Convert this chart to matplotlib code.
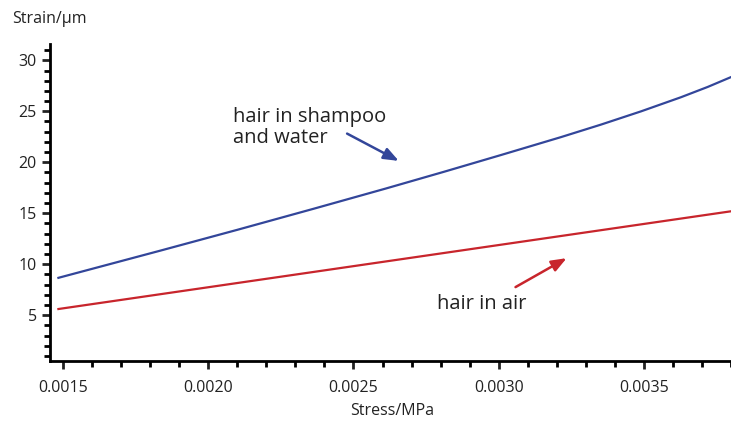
import matplotlib.pyplot as plt
from matplotlib.ticker import MultipleLocator, FormatStrFormatter

plt.rcParams['font.family'] = ['Open Sans', 'DejaVu Sans']

# stress (MPa) and strain (um)
stress_shampoo = [0.001484, 0.001834, 0.002100, 0.002362, 0.002610,
                  0.002810, 0.003007, 0.003214, 0.003352, 0.003490,
                  0.003627, 0.003720, 0.003803]
strain_shampoo = [8.66, 11.32, 13.37, 15.43, 17.41,
                  19.05, 20.70, 22.46, 23.69, 24.99,
                  26.37, 27.39, 28.39]
stress_air = [0.001484, 0.003803]
strain_air = [5.6, 15.2]

blue = "#33469a"
red = "#c8252c"
txt = "#222222"

fig = plt.figure(figsize=(7.31, 4.23), dpi=100)
ax = fig.add_axes([50 / 731, 62 / 423, 681 / 731, 317 / 423])

ax.plot(stress_shampoo, strain_shampoo, color=blue, lw=1.6)
ax.plot(stress_air, strain_air, color=red, lw=1.6)

ax.set_xlim(0.001455, 0.0038)
ax.set_ylim(0.5, 31.6)

ax.xaxis.set_major_locator(MultipleLocator(0.0005))
ax.xaxis.set_minor_locator(MultipleLocator(0.0001))
ax.xaxis.set_major_formatter(FormatStrFormatter('%.4f'))
ax.yaxis.set_major_locator(MultipleLocator(5))
ax.yaxis.set_minor_locator(MultipleLocator(1))
ax.set_yticks([5, 10, 15, 20, 25, 30])

for s in ['top', 'right']:
    ax.spines[s].set_visible(False)
for s in ['left', 'bottom']:
    ax.spines[s].set_linewidth(2)
ax.tick_params(which='major', length=6, width=2, labelsize=11.5, colors=txt)
ax.tick_params(which='minor', length=4, width=2)
ax.tick_params(axis='x', pad=8)

fig.text(12 / 731, 1 - 19 / 423, "Strain/\u03bcm", fontsize=11.5, va='center', color=txt)
fig.text(392 / 731, 1 - 411 / 423, "Stress/MPa", fontsize=11.5, ha='center', va='center', color=txt)

ax.annotate("", xy=(0.002656, 20.13), xytext=(0.002478, 22.81),
            arrowprops=dict(arrowstyle='-|>,head_length=0.9,head_width=0.35',
                            color=blue, lw=1.8, shrinkA=0, shrinkB=0))
ax.text(0.002086, 23.4, "hair in shampoo\nand water", fontsize=14.5, va='center',
        linespacing=1.05, color=txt)

ax.annotate("", xy=(0.003234, 10.59), xytext=(0.003058, 7.75),
            arrowprops=dict(arrowstyle='-|>,head_length=0.9,head_width=0.35',
                            color=red, lw=1.8, shrinkA=0, shrinkB=0))
ax.text(0.002786, 6.08, "hair in air", fontsize=14.5, va='center', color=txt)

fig.savefig("out.png", dpi=100)
